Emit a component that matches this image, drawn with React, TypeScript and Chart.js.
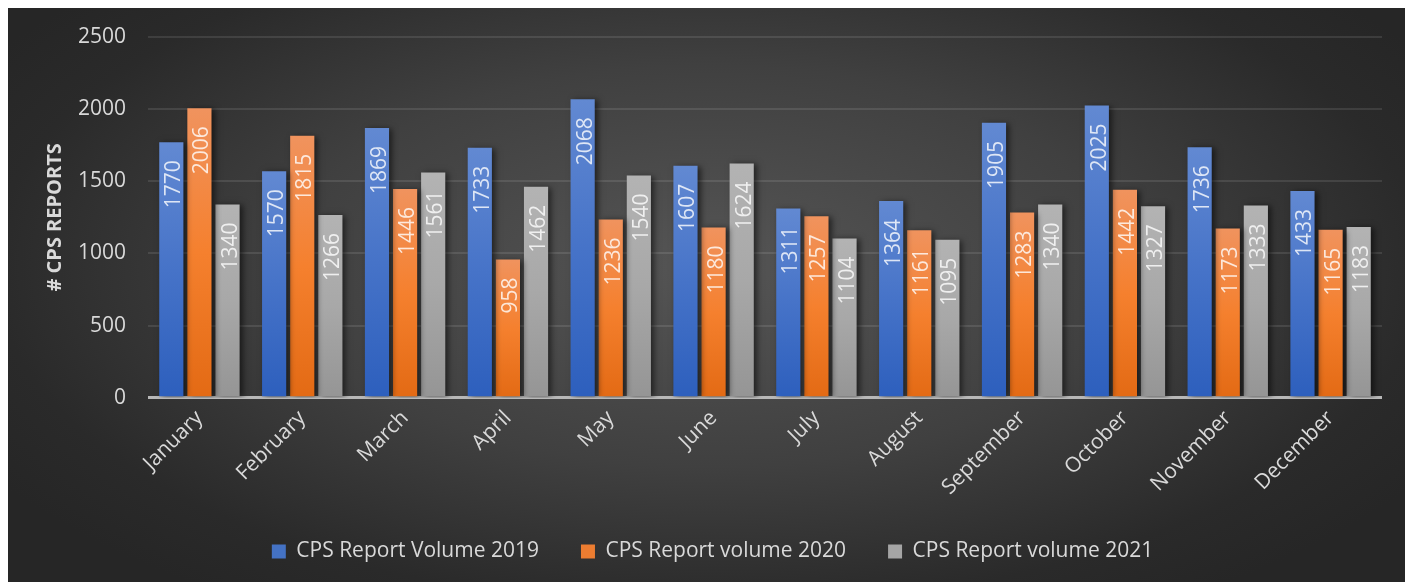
import React, { useEffect, useRef } from "react";
import { Chart, registerables } from "chart.js";

Chart.register(...registerables);

const months = ["January", "February", "March", "April", "May", "June", "July", "August", "September", "October", "November", "December"];
const volume2019 = [1770, 1570, 1869, 1733, 2068, 1607, 1311, 1364, 1905, 2025, 1736, 1433];
const volume2020 = [2006, 1815, 1446, 958, 1236, 1180, 1257, 1161, 1283, 1442, 1173, 1165];
const volume2021 = [1340, 1266, 1561, 1462, 1540, 1624, 1104, 1095, 1340, 1327, 1333, 1183];
const seriesLabels = ["CPS Report Volume 2019", "CPS Report volume 2020", "CPS Report volume 2021"];
const yAxisTitle = "# CPS REPORTS";
const yMax = 2500;
const yStep = 500;

const FONT = "'Open Sans', sans-serif";
const TEXT = "#d9d9d9";

const palettes = [
  { solid: "#4472c4", top: "#6289d2", mid: "#4673c8", bottom: "#2d5fbd" },
  { solid: "#ed7d31", top: "#f0935e", mid: "#f5802e", bottom: "#e36a14" },
  { solid: "#a5a5a5", top: "#b3b3b3", mid: "#a8a8a8", bottom: "#959595" },
];

function barFill(p: { top: string; mid: string; bottom: string }) {
  return (ctx: any) => {
    const chart = ctx.chart;
    const area = chart.chartArea;
    const ys = chart.scales && chart.scales.y;
    if (!area || !ys || ctx.type !== "data") return p.mid;
    const yTop = ys.getPixelForValue(ctx.raw);
    const yBot = ys.getPixelForValue(0);
    if (!isFinite(yTop) || !isFinite(yBot) || yBot - yTop < 1) return p.mid;
    const g = chart.ctx.createLinearGradient(0, yTop, 0, yBot);
    g.addColorStop(0, p.top);
    g.addColorStop(0.5, p.mid);
    g.addColorStop(1, p.bottom);
    return g;
  };
}

const shadowPlugin = {
  id: "barShadow",
  beforeDatasetsDraw(chart: any) {
    const c = chart.ctx;
    c.save();
    c.shadowColor = "rgba(0,0,0,0.55)";
    c.shadowBlur = 6;
    c.shadowOffsetX = 3;
    c.shadowOffsetY = 1;
  },
  afterDatasetsDraw(chart: any) {
    const c = chart.ctx;
    c.restore();
    c.save();
    c.font = `21px ${FONT}`;
    c.fillStyle = "rgba(255,255,255,0.8)";
    c.textAlign = "right";
    c.textBaseline = "alphabetic";
    chart.data.datasets.forEach((ds: any, di: number) => {
      const meta = chart.getDatasetMeta(di);
      meta.data.forEach((bar: any, i: number) => {
        c.save();
        c.translate(bar.x, bar.y + 18);
        c.rotate(-Math.PI / 2);
        c.fillText(String(ds.data[i]), 0, 9);
        c.restore();
      });
    });
    c.restore();
  },
};

export default function App() {
  const ref = useRef<HTMLCanvasElement | null>(null);

  useEffect(() => {
    if (!ref.current) return;
    const series = [volume2019, volume2020, volume2021];
    const chart = new Chart(ref.current, {
      type: "bar",
      data: {
        labels: months,
        datasets: series.map((d, i) => ({
          label: seriesLabels[i],
          data: d,
          backgroundColor: barFill(palettes[i]),
          borderWidth: 0,
          categoryPercentage: 0.82,
          barPercentage: 0.86,
        })),
      },
      options: {
        animation: false,
        responsive: false,
        maintainAspectRatio: false,
        layout: { padding: { left: 36, right: 29, top: 29, bottom: 10 } },
        plugins: {
          tooltip: { enabled: false },
          legend: {
            position: "bottom",
            labels: {
              color: TEXT,
              font: { family: FONT, size: 21 },
              boxWidth: 14,
              boxHeight: 14,
              padding: 42,
              generateLabels: () =>
                seriesLabels.map((t, i) => ({
                  text: t,
                  fillStyle: palettes[i].solid,
                  strokeStyle: palettes[i].solid,
                  lineWidth: 0,
                  hidden: false,
                  datasetIndex: i,
                  fontColor: TEXT,
                })),
            },
          },
        },
        scales: {
          x: {
            grid: { display: false },
            border: { display: false },
            ticks: {
              color: TEXT,
              font: { family: FONT, size: 21 },
              maxRotation: 45,
              minRotation: 45,
              padding: 0,
            },
            afterFit: (s: any) => {
              s.height = s.height - 1;
            },
          },
          y: {
            min: 0,
            max: yMax,
            border: { display: false },
            grid: {
              drawTicks: false,
              color: (c: any) => (c.tick && c.tick.value === 0 ? "#b8b8b8" : "rgba(255,255,255,0.1)"),
              lineWidth: (c: any) => (c.tick && c.tick.value === 0 ? 3 : 2),
            },
            ticks: {
              stepSize: yStep,
              color: TEXT,
              font: { family: FONT, size: 21 },
              padding: 22,
              callback: (v: any) => String(v),
            },
            title: {
              display: true,
              text: yAxisTitle,
              color: TEXT,
              font: { family: FONT, size: 20, weight: "bold" },
              padding: { top: 0, bottom: 11 },
            },
            afterFit: (s: any) => {
              s.width = 105;
              s.paddingTop = 0;
              s.paddingBottom = 0;
            },
          },
        },
      },
      plugins: [shadowPlugin],
    } as any);
    return () => chart.destroy();
  }, []);

  return (
    <div
      style={{
        position: "relative",
        width: 1404,
        height: 574,
        marginLeft: -1,
        background: "radial-gradient(ellipse 60% 70% at 50% 45%, #555555 0%, #404040 50%, #2a2a2a 85%, #262626 100%)",
      }}
    >
      <canvas ref={ref} width={1404} height={574} style={{ display: "block", width: 1404, height: 574 }} />
    </div>
  );
}
